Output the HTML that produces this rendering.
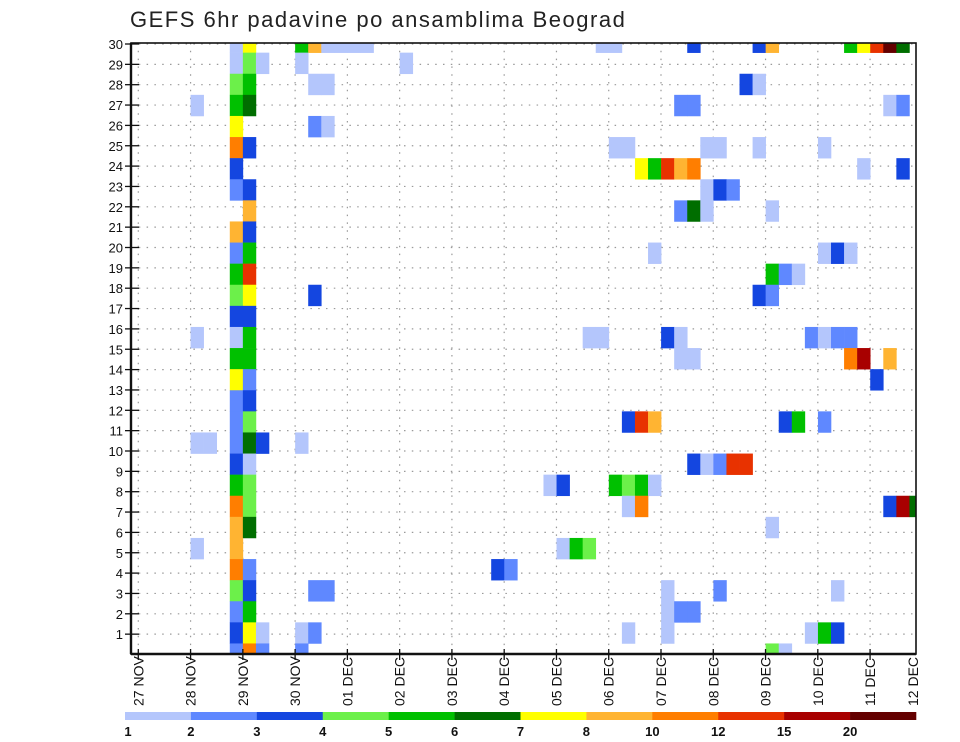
<!DOCTYPE html>
<html><head><meta charset="utf-8"><style>
html,body{margin:0;padding:0;background:#fff;}
svg{display:block;font-family:"Liberation Sans",sans-serif;}
</style></head><body>
<svg id="chart" width="960" height="742" viewBox="0 0 960 742" xmlns="http://www.w3.org/2000/svg">
<rect x="0" y="0" width="960" height="742" fill="#fff"/>
<text x="130" y="27" font-size="22" letter-spacing="1.5" fill="#222">GEFS 6hr padavine po ansamblima Beograd</text>
<defs><clipPath id="pc"><rect x="131" y="43" width="785" height="611"/></clipPath></defs>
<g id="grid"></g>
<g id="cells" clip-path="url(#pc)"></g>
<g id="axes"></g>
<g id="legend"></g>
</svg>
<script>
// categories
const dayLabels = ["27 NOV","28 NOV","29 NOV","30 NOV","01 DEC","02 DEC","03 DEC","04 DEC","05 DEC","06 DEC","07 DEC","08 DEC","09 DEC","10 DEC","11 DEC","12 DEC"];
const memberLabels = [1,2,3,4,5,6,7,8,9,10,11,12,13,14,15,16,17,18,19,20,21,22,23,24,25,26,27,28,29,30];
const levelLabels = ["1","2","3","4","5","6","7","8","10","12","15","20",""];
const levelColors = ["#b4c6fc","#5f88ff","#1446e0","#6cf04a","#00c000","#006e00","#ffff00","#ffb432","#ff7e00","#e83200","#a80000","#640000"];
// series values: 6-hour step index, ensemble member index, precipitation class
const steps = [
7,8,12,13,14,15,16,17,35,36,42,47,48,54,55,56,57,58,
7,8,9,12,20,
7,8,13,14,46,47,
4,7,8,41,42,57,58,
7,13,14,
7,8,36,37,43,44,47,52,
7,38,39,40,41,42,55,58,
7,8,43,44,45,
8,41,42,43,48,
7,8,
7,8,39,52,53,54,
7,8,48,49,50,
7,8,13,47,48,
7,8,
4,7,8,34,35,40,41,51,52,53,54,
7,8,41,42,54,55,57,
7,8,56,
7,8,
7,8,37,38,39,49,50,52,
4,5,7,8,9,12,
7,8,42,43,44,45,46,
7,8,31,32,36,37,38,39,
7,8,37,38,57,58,59,
7,8,48,
4,7,32,33,34,
7,8,27,28,
7,8,13,14,40,44,53,
7,8,40,41,42,
7,8,9,12,13,37,40,51,52,53,
7,8,9,12,48,49];
const members = [
29,29,29,29,29,29,29,29,29,29,29,29,29,29,29,29,29,29,
28,28,28,28,28,
27,27,27,27,27,27,
26,26,26,26,26,26,26,
25,25,25,
24,24,24,24,24,24,24,24,
23,23,23,23,23,23,23,23,
22,22,22,22,22,
21,21,21,21,21,
20,20,
19,19,19,19,19,19,
18,18,18,18,18,
17,17,17,17,17,
16,16,
15,15,15,15,15,15,15,15,15,15,15,
14,14,14,14,14,14,14,
13,13,13,
12,12,
11,11,11,11,11,11,11,11,
10,10,10,10,10,10,
9,9,9,9,9,9,9,
8,8,8,8,8,8,8,8,
7,7,7,7,7,7,7,
6,6,6,
5,5,5,5,5,
4,4,4,4,
3,3,3,3,3,3,3,
2,2,2,2,2,
1,1,1,1,1,1,1,1,1,1,
0,0,0,0,0,0];
const levels = [
0,6,4,7,0,0,0,0,0,0,2,2,7,4,6,9,11,5,
0,3,0,0,0,
3,4,0,0,2,0,
0,4,5,1,1,0,1,
6,1,0,
8,2,0,0,0,0,0,0,
2,6,4,9,7,8,0,2,
1,2,0,2,1,
7,1,5,0,0,
7,2,
1,4,0,0,2,0,
4,9,4,1,0,
3,6,2,2,1,
2,2,
0,0,4,0,0,2,0,1,0,1,1,
4,4,0,0,8,10,7,
6,1,2,
1,2,
1,3,2,9,7,2,4,1,
0,0,1,5,2,0,
2,0,2,0,1,9,9,
4,3,0,2,4,3,4,0,
8,3,0,8,2,10,5,
7,5,0,
0,7,0,4,3,
8,1,2,1,
3,2,1,1,0,1,0,
1,4,0,1,1,
2,6,0,0,1,0,0,0,4,2,
1,8,1,1,3,0];

const NS="http://www.w3.org/2000/svg";
const L=131,R=916,T=43,B=654;
function xDay(d){return 138.3+52.27*d;}
function xStep(k){return 138.3+13.07*k;}
const stepW=13.07, cellH=21.1;
function yMember(j){return B-cellH*j;}
function yTick(r){return 654.5-20.35*r;}
function mk(tag,attrs,parent){const e=document.createElementNS(NS,tag);for(const a in attrs)e.setAttribute(a,attrs[a]);parent.appendChild(e);return e;}

const grid=document.getElementById('grid');
memberLabels.forEach(function(r){
  const l=mk('line',{x1:L,x2:R,y1:yTick(r),y2:yTick(r),stroke:'#9a9a9a','stroke-width':1.2,'stroke-dasharray':'1.5 6.3'},grid);
  
  
});
dayLabels.forEach(function(t,d){
  const x=xDay(d); if(x>R) return;
  const l=mk('line',{x1:x,x2:x,y1:T,y2:B,stroke:'#9a9a9a','stroke-width':1.2,'stroke-dasharray':'1.5 6.3'},grid);
  
  
});

const cells=document.getElementById('cells');
for(let i=0;i<steps.length;i++){
  const r=mk('rect',{x:xStep(steps[i]),y:yMember(members[i])-cellH/2,width:stepW+0.3,height:cellH+0.3,fill:levelColors[levels[i]]},cells);
  
  
}

const axes=document.getElementById('axes');
const frame=mk('rect',{x:L,y:T,width:R-L,height:B-T,fill:'none',stroke:'#111','stroke-width':1.6},axes);


mk('line',{x1:L,x2:L,y1:T,y2:B,stroke:'#111','stroke-width':2.4},axes);
mk('line',{x1:L,x2:R,y1:B,y2:B,stroke:'#111','stroke-width':2.4},axes);
memberLabels.forEach(function(r){
  const y=yTick(r);
  mk('line',{x1:125,x2:139,y1:y,y2:y,stroke:'#111','stroke-width':1.3},axes);
  const t=mk('text',{x:123,y:y+5,'font-size':13,'text-anchor':'end',fill:'#111'},axes);
  t.textContent=r;
  
  
});
dayLabels.forEach(function(lbl,d){
  let x=xDay(d);
  if(x<=R) mk('line',{x1:x,x2:x,y1:B-5,y2:B+6,stroke:'#111','stroke-width':1.3},axes);
  x=Math.min(x,913);
  const t=mk('text',{x:x+5,y:706,'font-size':14,fill:'#111',transform:'rotate(-90 '+(x+5)+' 706)'},axes);
  t.textContent=lbl;
  
  
});

const legend=document.getElementById('legend');
const lx0=125,lw=(916-125)/12;
levelColors.forEach(function(c,i){
  const r=mk('rect',{x:lx0+lw*i,y:712,width:lw+0.3,height:8,fill:c},legend);
  
  
});
levelLabels.forEach(function(s,i){
  if(!s) return;
  const t=mk('text',{x:lx0+lw*i+(i===0?3:0),y:736,'font-size':13,'font-weight':'bold','text-anchor':'middle',fill:'#111'},legend);
  t.textContent=s;
  
  
});
</script>
</body></html>
